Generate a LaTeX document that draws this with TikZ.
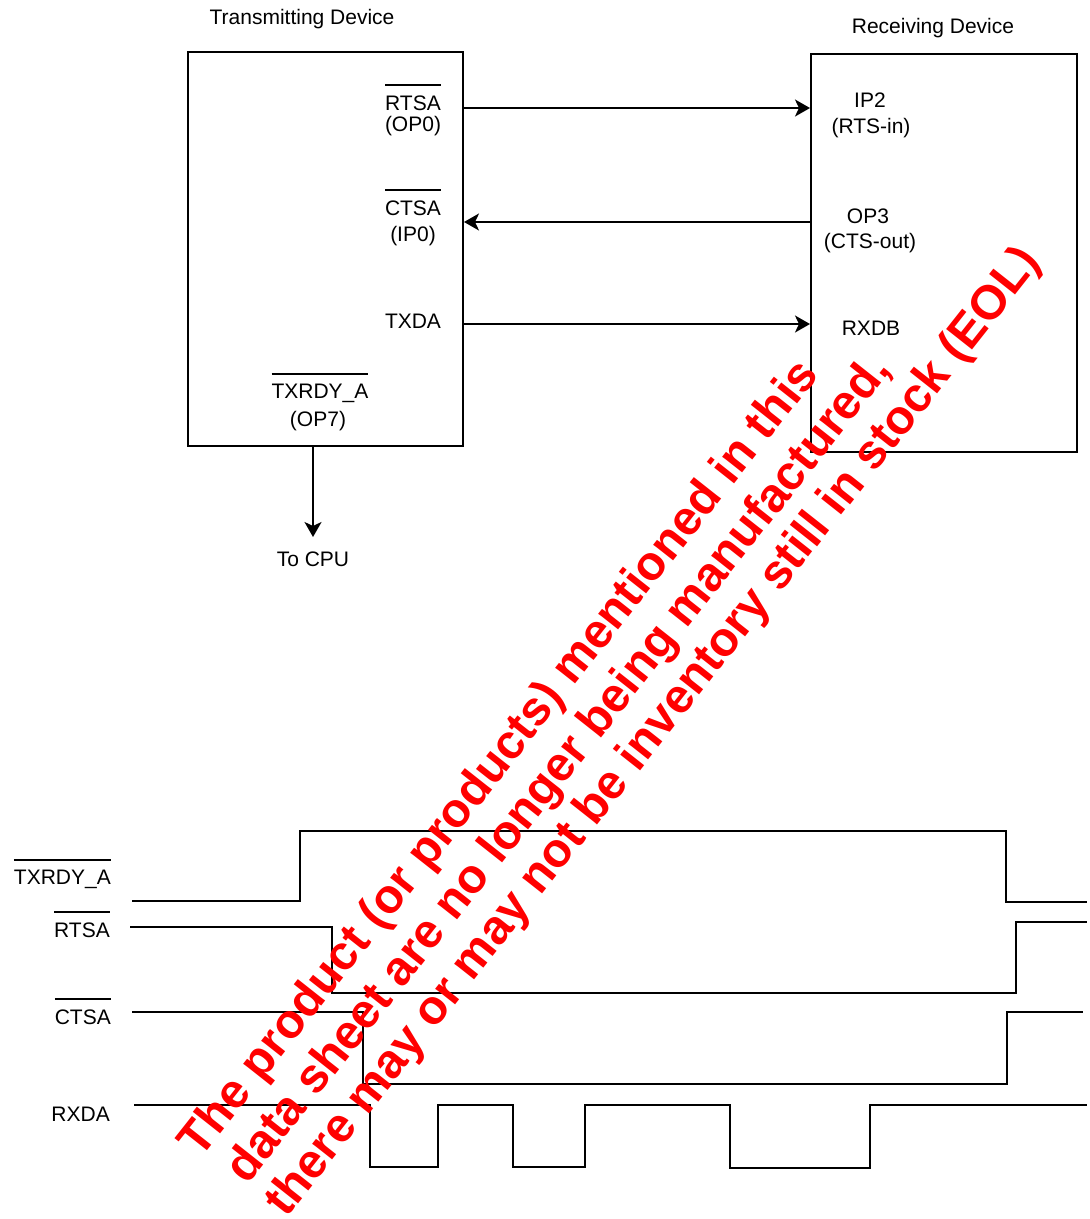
\documentclass[tikz,border=0pt]{standalone}
\usepackage{fontspec}
\setmainfont{Liberation Sans}
\usetikzlibrary{arrows.meta}
\newcommand{\sigBar}[1]{\vbox{\hrule height 2pt\kern 9pt\hbox{#1}}}
\tikzset{
  sigLabel/.style={font={\fontsize{21}{23}\selectfont}, anchor=base, inner sep=0pt},
  devBox/.style={draw, line width=2pt, inner sep=0pt},
  sigArrow/.style={line width=2pt, -{Stealth[length=15pt,width=17pt,inset=4pt]}},
  sigWave/.style={line width=2pt, line join=miter},
  eolText/.style={font={\fontsize{48}{50}\selectfont\bfseries}, text=red, anchor=base west, inner sep=0pt, rotate=51.7}
}
\begin{document}
\begin{tikzpicture}[x=1pt,y=-1pt]
\useasboundingbox (0,0) rectangle (1090,1219);
\node[devBox, minimum width=275pt, minimum height=394pt] (txdev) at (325.5,249) {};
\node[devBox, minimum width=266pt, minimum height=398pt] (rxdev) at (944,253) {};
\node[sigLabel] (txtitle) at (302,24.5) {Transmitting Device};
\node[sigLabel] (rxtitle) at (933,33) {Receiving Device};
\node[sigLabel] (rtsa) at (413,110) {\sigBar{RTSA}};
\node[sigLabel] (op0) at (413,131) {(OP0)};
\node[sigLabel] (ctsa) at (413,215) {\sigBar{CTSA}};
\node[sigLabel] (ip0) at (413,241) {(IP0)};
\node[sigLabel] (txda) at (413,328) {TXDA};
\node[sigLabel] (txrdy) at (320,398) {\sigBar{TXRDY\_A}};
\node[sigLabel] (op7) at (318,426) {(OP7)};
\node[sigLabel] (ip2) at (870,107) {IP2};
\node[sigLabel] (rtsin) at (871,133) {(RTS-in)};
\node[sigLabel] (op3) at (868,223) {OP3};
\node[sigLabel] (ctsout) at (870,248) {(CTS-out)};
\node[sigLabel] (rxdb) at (871,335) {RXDB};
\node[sigLabel] (cpu) at (313,566) {To CPU};
\coordinate (rtsaLine) at (0,108);
\coordinate (ctsaLine) at (0,222);
\coordinate (txdaLine) at (0,324);
\coordinate (cpuTip) at (313,537);
\draw[sigArrow] (txdev.east |- rtsaLine) -- (rxdev.west |- rtsaLine);
\draw[sigArrow] (rxdev.west |- ctsaLine) -- (txdev.east |- ctsaLine);
\draw[sigArrow] (txdev.east |- txdaLine) -- (rxdev.west |- txdaLine);
\draw[sigArrow] (txdev.south -| cpuTip) -- (cpuTip);
\node[sigLabel, anchor=base east] (wtxrdy) at (111,884) {\sigBar{TXRDY\_A}};
\node[sigLabel, anchor=base east] (wrtsa) at (110,937) {\sigBar{RTSA}};
\node[sigLabel, anchor=base east] (wctsa) at (111,1024) {\sigBar{CTSA}};
\node[sigLabel, anchor=base east] (wrxda) at (110,1121) {RXDA};
\draw[sigWave] (132,901) -- (300,901) -- (300,831) -- (1006,831) -- (1006,902) -- (1087,902);
\draw[sigWave] (130,927) -- (332,927) -- (332,993) -- (1016,993) -- (1016,922) -- (1087,922);
\draw[sigWave] (132,1012) -- (363,1012) -- (363,1084) -- (1007,1084) -- (1007,1012) -- (1083,1012);
\draw[sigWave] (134,1105) -- (370,1105) -- (370,1167) -- (438,1167) -- (438,1105) -- (513,1105) -- (513,1167) -- (585,1167) -- (585,1105) -- (730,1105) -- (730,1168) -- (870,1168) -- (870,1105) -- (1087,1105);
\node[eolText] (eol1) at (200,1160) {The product (or products) mentioned in this};
\node[eolText] (eol2) at (247,1186) {data sheet are no longer being manufactured,};
\node[eolText] (eol3) at (286,1219) {there may or may not be inventory still in stock (EOL)};
\end{tikzpicture}
\end{document}
